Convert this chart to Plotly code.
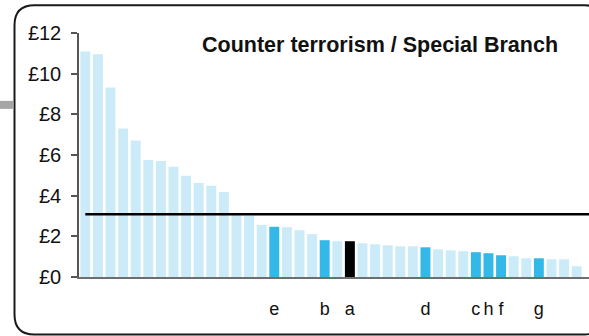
import plotly.graph_objects as go

# ---- data ----
values = [11.09, 10.95, 9.32, 7.30, 6.71, 5.75, 5.71, 5.42, 4.98, 4.62,
          4.49, 4.18, 3.04, 3.02, 2.56, 2.47, 2.45, 2.30, 2.11, 1.81,
          1.76, 1.76, 1.66, 1.61, 1.56, 1.51, 1.51, 1.46, 1.36, 1.31,
          1.27, 1.22, 1.17, 1.07, 1.02, 0.92, 0.92, 0.87, 0.87, 0.53]
labels = ["", "", "", "", "", "", "", "", "", "",
          "", "", "", "", "", "e", "", "", "", "b",
          "", "a", "", "", "", "", "", "d", "", "",
          "", "c", "h", "f", "", "", "g", "", "", ""]
groups = ["other"] * 40
for i, lab in enumerate(labels):
    if lab:
        groups[i] = "peer"
groups[21] = "force"
average = 3.08
title_text = "Counter terrorism / Special Branch"
y_ticks = [0, 2, 4, 6, 8, 10, 12]
y_ticktext = ["£" + str(v) for v in y_ticks]

group_colors = {"other": "#CCEBF8", "peer": "#33B8E7", "force": "#000000"}

x_idx = list(range(len(values)))
tick_pos = [i for i, lab in enumerate(labels) if lab]
tick_txt = [labels[i] for i in tick_pos]

fig = go.Figure()
fig.add_trace(go.Bar(
    x=x_idx, y=values,
    marker=dict(color=[group_colors[g] for g in groups], line=dict(width=0)),
    showlegend=False, hoverinfo="skip"))
fig.add_trace(go.Scatter(
    x=[0, len(values) + 1], y=[average, average], mode="lines",
    line=dict(color="#000000", width=2.5), showlegend=False, hoverinfo="skip"))

# layout geometry (pixels)
W, H = 589, 336
L_PX, R_PX, T_PX, B_PX = 79, 589, 33.3, 276.7


def fx(px):
    return (px - L_PX) / (R_PX - L_PX)


def fy(py):
    return (B_PX - py) / (B_PX - T_PX)


# open path: the frame's right side lies just beyond the visible page
lft, top, bot, r = 14.5, 5.5, 334, 20
corner_end = 597
path = (f"M {fx(corner_end)},{fy(top + 8)} Q {fx(corner_end - 3)},{fy(top)} {fx(corner_end - 12)},{fy(top)} "
        f"L {fx(lft + r)},{fy(top)} Q {fx(lft)},{fy(top)} {fx(lft)},{fy(top + r)} "
        f"L {fx(lft)},{fy(bot - r)} Q {fx(lft)},{fy(bot)} {fx(lft + r)},{fy(bot)} "
        f"L {fx(corner_end - 12)},{fy(bot)} Q {fx(corner_end - 3)},{fy(bot)} {fx(corner_end)},{fy(bot - 8)}")

shapes = [
    dict(type="path", path=path, xref="paper", yref="paper",
         line=dict(color="#1a1a1a", width=2), fillcolor="rgba(0,0,0,0)", layer="above"),
    dict(type="rect", xref="paper", yref="paper", x0=fx(0), x1=fx(13.5),
         y0=fy(109), y1=fy(101), fillcolor="#A6A6A6", line=dict(width=0), layer="above"),
]

fig.update_layout(
    width=W, height=H,
    margin=dict(l=L_PX, r=W - R_PX, t=T_PX, b=H - B_PX, pad=0),
    paper_bgcolor="white", plot_bgcolor="white",
    bargap=0.21,
    font=dict(family="Liberation Sans, Arial, sans-serif", color="#111111"),
    shapes=shapes,
    annotations=[dict(
        text="<b>" + title_text + "</b>", xref="paper", yref="paper",
        x=fx(379.5), y=fy(45), xanchor="center", yanchor="middle",
        showarrow=False, font=dict(size=21.5, color="#111111"))],
    xaxis=dict(range=[-0.5, 39.98], showgrid=False, zeroline=False,
               showline=True, linecolor="rgba(85,85,85,0.85)", linewidth=2,
               tickmode="array", tickvals=tick_pos, ticktext=tick_txt,
               ticks="", tickfont=dict(size=18, color="#111111"),
               ticklabelstandoff=14, fixedrange=True),
    yaxis=dict(range=[0, 12], showgrid=False, zeroline=False,
               showline=True, linecolor="#555555", linewidth=1.5,
               tickmode="array", tickvals=y_ticks, ticktext=y_ticktext,
               ticks="outside", ticklen=6, tickcolor="#555555", tickwidth=1.5,
               tickfont=dict(size=20, color="#111111"),
               ticklabelstandoff=6, fixedrange=True),
)

fig.write_html("out.html", config={"displayModeBar": False},
               post_script="document.body.style.margin='0';document.body.style.overflow='hidden';")
